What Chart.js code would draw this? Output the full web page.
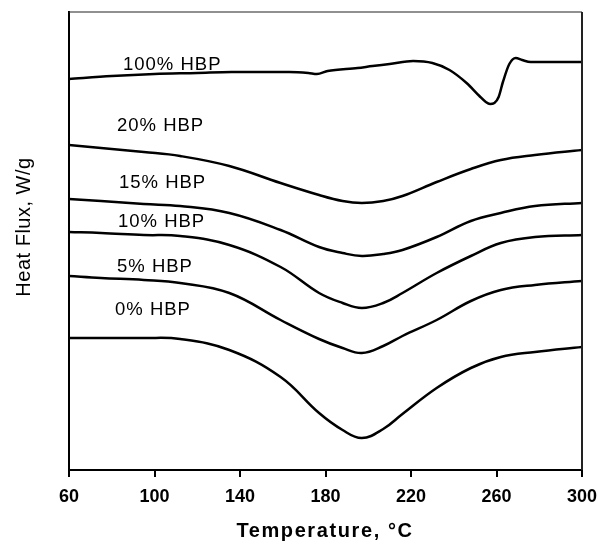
<!DOCTYPE html>
<html>
<head>
<meta charset="utf-8">
<script src="https://cdn.jsdelivr.net/npm/chart.js@4.4.1/dist/chart.umd.min.js"></script>
<style>
  html, body { margin: 0; padding: 0; background: #fff; }
  #wrap { width: 598px; height: 544px; position: relative; }
</style>
</head>
<body>
<div id="wrap"><canvas id="dsc"></canvas></div>
<script>
// temperatures (°C) shared by the smooth curves
const temps = [60, 75, 95, 112, 135, 159, 177, 188, 197, 207, 216, 232, 248, 262, 278, 300]
// heat flux, arbitrary units (curves are offset vertically)
const hbp20 = [325, 322, 318, 314, 304, 287, 275, 269, 267, 269, 274, 288, 301, 310, 315, 320]
const hbp15 = [271, 269, 266, 264, 257, 240, 223, 217, 214, 216, 220, 233, 249, 257, 264, 267]
const hbp10 = [238, 237, 235, 234, 225, 203, 177, 167, 162, 167, 177, 197, 214, 227, 233, 235]
const hbp5  = [194, 192, 190, 187, 177, 150, 131, 122, 117, 124, 134, 150, 169, 180, 185, 189]
const hbp0  = [132, 132, 132, 131, 120, 93, 57, 40, 32, 41, 56, 82, 102, 113, 118, 123]

// 100% HBP has a sharp melting dip, so it gets its own temperature grid
const temps100 = [60, 80, 100, 120, 136, 163, 172, 176, 181, 195, 202, 210, 221, 230, 238, 246, 252, 255, 257, 259, 261, 263, 266, 269, 272, 276, 288, 300]
const hbp100   = [391, 394, 396, 397, 398, 398, 397, 396, 399, 402, 404, 406, 409, 407, 400, 387, 374, 368, 366, 367, 373, 388, 406, 412, 410, 408, 408, 408]

const xTicks = [60, 100, 140, 180, 220, 260, 300]

const seriesLabels = ['100% HBP', '20% HBP', '15% HBP', '10% HBP', '5% HBP', '0% HBP']

function toPoints(xs, ys) { return xs.map((x, i) => ({ x, y: ys[i] })) }

function lineSet(label, xs, ys, sharp) {
  return {
    label,
    data: toPoints(xs, ys),
    borderColor: '#000',
    borderWidth: 2.5,
    pointRadius: 0,
    fill: false,
    tension: 0.4,
    cubicInterpolationMode: sharp ? 'monotone' : 'default'
  }
}

// curve labels + axis titles + frame drawn on the canvas
const annotate = {
  id: 'annotate',
  afterDraw(chart) {
    const { ctx, chartArea: a } = chart
    ctx.save()
    // top and right frame
    ctx.strokeStyle = '#222'
    ctx.lineWidth = 1.2
    ctx.beginPath(); ctx.moveTo(a.left, a.top); ctx.lineTo(a.right, a.top); ctx.stroke()
    ctx.lineWidth = 2
    ctx.beginPath(); ctx.moveTo(a.right, a.top); ctx.lineTo(a.right, a.bottom); ctx.stroke()

    ctx.fillStyle = '#000'
    ctx.textBaseline = 'middle'
    ctx.textAlign = 'left'
    ctx.font = '18.5px "Liberation Sans", Arial, sans-serif'
    if ('letterSpacing' in ctx) ctx.letterSpacing = '1px'
    const spots = [[123, 65], [117, 126], [119, 183], [118, 222], [117, 267], [115, 310]]
    seriesLabels.forEach((t, i) => ctx.fillText(t, spots[i][0], spots[i][1]))

    // x title
    ctx.textAlign = 'center'
    ctx.font = 'bold 20px "Liberation Sans", Arial, sans-serif'
    if ('letterSpacing' in ctx) ctx.letterSpacing = '1.6px'
    ctx.fillText('Temperature, °C', 325, 531)

    // y title
    ctx.font = '20px "Liberation Sans", Arial, sans-serif'
    if ('letterSpacing' in ctx) ctx.letterSpacing = '0.5px'
    ctx.translate(24, 227)
    ctx.rotate(-Math.PI / 2)
    ctx.fillText('Heat Flux, W/g', 0, 0)
    ctx.restore()
  }
}

new Chart(document.getElementById('dsc'), {
  type: 'line',
  data: {
    datasets: [
      lineSet(seriesLabels[0], temps100, hbp100, true),
      lineSet(seriesLabels[1], temps, hbp20),
      lineSet(seriesLabels[2], temps, hbp15),
      lineSet(seriesLabels[3], temps, hbp10),
      lineSet(seriesLabels[4], temps, hbp5),
      lineSet(seriesLabels[5], temps, hbp0)
    ]
  },
  options: {
    responsive: true,
    maintainAspectRatio: false,
    animation: false,
    layout: { padding: { top: 12, right: 16, left: 0, bottom: 0 } },
    plugins: { legend: { display: false }, tooltip: { enabled: false } },
    scales: {
      x: {
        type: 'linear',
        min: 60, max: 300,
        afterFit: s => { s.height = 74; s.paddingLeft = 0; s.paddingRight = 0 },
        afterBuildTicks: s => { s.ticks = xTicks.map(v => ({ value: v })) },
        grid: { drawOnChartArea: false, drawTicks: true, tickLength: 7, color: '#000', lineWidth: 2 },
        border: { display: true, color: '#000', width: 2 },
        ticks: { color: '#000', padding: 9, maxRotation: 0, font: { family: '"Liberation Sans", Arial, sans-serif', size: 18, weight: 'bold' } }
      },
      y: {
        min: 0, max: 458,
        afterFit: s => { s.width = 69 },
        grid: { display: false },
        border: { display: true, color: '#000', width: 2 },
        ticks: { display: false }
      }
    }
  },
  plugins: [annotate]
})
</script>
</body>
</html>
